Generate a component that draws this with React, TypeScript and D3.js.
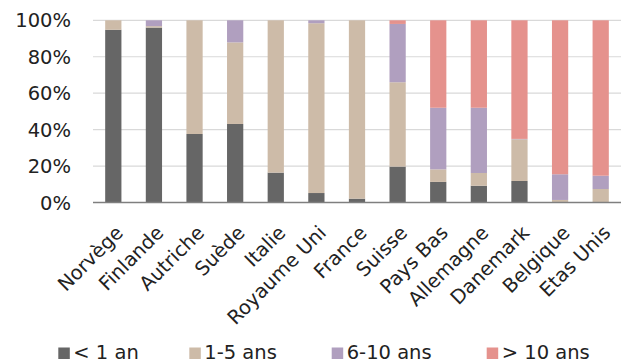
import React from "react";
import * as d3 from "d3";

const categories = [
  "Norvège", "Finlande", "Autriche", "Suède", "Italie", "Royaume Uni", "France",
  "Suisse", "Pays Bas", "Allemagne", "Danemark", "Belgique", "Etas Unis",
];
const seriesNames = ["< 1 an", "1-5 ans", "6-10 ans", "> 10 ans"];
const seriesColors = ["#666666", "#cdbba8", "#b09fbf", "#e5928d"];
const lessThan1 = [94.8, 96, 37.6, 43.1, 16.4, 5.2, 2.1, 19.7, 11.3, 9.2, 11.8, 0, 0];
const from1to5 = [5.2, 0.8, 62.4, 44.8, 83.6, 93.2, 97.9, 46.3, 6.9, 7.0, 22.9, 1.4, 7.4];
const from6to10 = [0, 3.2, 0, 12.1, 0, 1.6, 0, 32.0, 33.8, 35.8, 0.2, 14.1, 7.3];
const over10 = [0, 0, 0, 0, 0, 0, 0, 2.0, 48.0, 48.0, 65.1, 84.5, 85.3];
const yTicks = [0, 20, 40, 60, 80, 100];

const W = 627;
const H = 363;
const FONT = "'DejaVu Sans', sans-serif";
const FS = 19.5;

export default function App() {
  const x = d3.scaleBand<string>().domain(categories).range([93, 621]).paddingInner(0.6).paddingOuter(0.3);
  const y = d3.scaleLinear().domain([0, 100]).range([202.5, 20.3]);

  const rows = categories.map((c, i) => ({
    cat: c,
    s0: lessThan1[i],
    s1: from1to5[i],
    s2: from6to10[i],
    s3: over10[i],
  }));
  const stack = d3.stack<any>().keys(["s0", "s1", "s2", "s3"]);
  const layers = stack(rows);

  const legendSquareX = [58.3, 189.3, 331.7, 486.7];

  return (
    <svg
      width={W}
      height={H}
      style={{ position: "fixed", left: 0, top: 0, background: "#fff" }}
      fontFamily={FONT}
    >
      <rect width={W} height={H} fill="#fff" />
      {yTicks.map((t) => (
        <g key={t}>
          {t > 0 && (
            <line x1={93} x2={621} y1={y(t)} y2={y(t)} stroke="#d9d9d9" strokeWidth={1.2} />
          )}
          <text x={71} y={y(t)} dy="0.36em" textAnchor="end" fontSize={FS} fill="#222">
            {t}%
          </text>
        </g>
      ))}
      {layers.map((layer, li) => (
        <g key={li} fill={seriesColors[li]}>
          {layer.map((d: any, i: number) => {
            const h = y(d[0]) - y(d[1]);
            if (h <= 0) return null;
            return (
              <rect
                key={i}
                x={x(categories[i])}
                y={y(d[1])}
                width={x.bandwidth()}
                height={h}
              />
            );
          })}
        </g>
      ))}
      <line x1={93} x2={621} y1={y(0)} y2={y(0)} stroke="#7f7f7f" strokeWidth={1.6} />
      {categories.map((c) => {
        const cx = (x(c) as number) + x.bandwidth() / 2;
        return (
          <text
            key={c}
            transform={`translate(${cx + 1},${224}) rotate(-45)`}
            textAnchor="end"
            dy="0.72em"
            fontSize={FS}
            fill="#222"
          >
            {c}
          </text>
        );
      })}
      {seriesNames.map((n, i) => (
        <g key={n}>
          <rect x={legendSquareX[i]} y={347.5} width={11.5} height={11.5} fill={seriesColors[i]} />
          <text x={legendSquareX[i] + 15} y={359} fontSize={FS} fill="#222">
            {n}
          </text>
        </g>
      ))}
    </svg>
  );
}
